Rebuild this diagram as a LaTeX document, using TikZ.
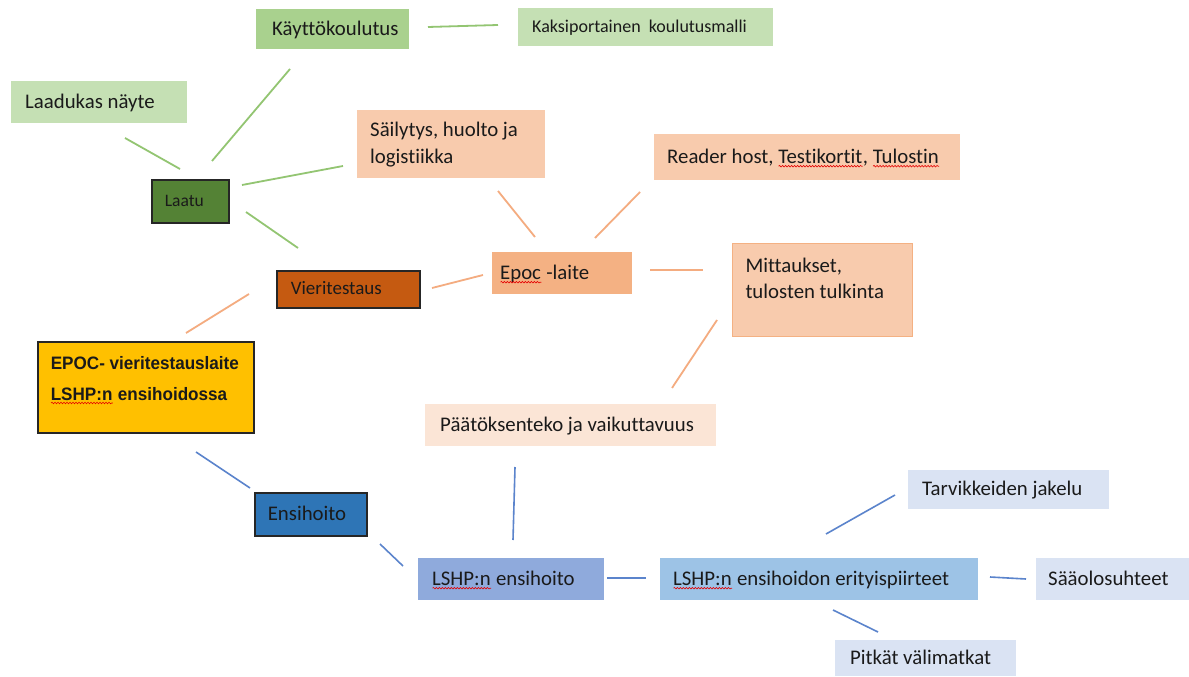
\documentclass[tikz,border=0pt]{standalone}
\usepackage{fontspec}
\usetikzlibrary{decorations.pathmorphing}
\setmainfont{Carlito}[Ligatures={NoCommon}]
\newfontfamily\epocfont{Liberation Sans}[FakeStretch=0.95]
\definecolor{cK}{HTML}{A9D18E}
\definecolor{cLG}{HTML}{C5E0B4}
\definecolor{cLaatu}{HTML}{548235}
\definecolor{cPeach}{HTML}{F8CBAD}
\definecolor{cOrange}{HTML}{F4B183}
\definecolor{cVieri}{HTML}{C55A11}
\definecolor{cGold}{HTML}{FFC000}
\definecolor{cPD}{HTML}{FBE5D6}
\definecolor{cEns}{HTML}{2E75B6}
\definecolor{cLSHP}{HTML}{8FAADC}
\definecolor{cErit}{HTML}{9DC3E6}
\definecolor{cLB}{HTML}{DAE3F3}
\definecolor{lnG}{HTML}{93C572}
\definecolor{lnO}{HTML}{F4AC80}
\definecolor{lnB}{HTML}{5B84CC}
\definecolor{txt}{HTML}{1A1A1A}
\newlength\spllen
\newcommand\lbx[3]{\makebox[#1pt][l]{\hspace*{#2pt}\strut#3}}
\newcommand\mlbx[3]{\makebox[#1pt][l]{\hspace*{#2pt}\begin{tabular}[c]{@{}l@{}}#3\end{tabular}}}
\newcommand\spl[1]{\leavevmode\setbox0=\hbox{#1}\spllen=\wd0\rlap{#1}\tikz[baseline=0pt,x=1pt,y=1pt]\draw[red!90!black, line width=0.6pt, decorate, decoration={snake, amplitude=0.8pt, segment length=3pt}] (0,-3) -- (\spllen,-3);}
\frenchspacing
\tikzset{
  box/.style={rectangle, anchor=north west, inner sep=0pt, font=\fontsize{20.8}{30}\selectfont, text=txt},
  frame/.style={draw=black!85, line width=1.6pt},
  gline/.style={draw=lnG, line width=1.8pt},
  oline/.style={draw=lnO, line width=1.8pt},
  bline/.style={draw=lnB, line width=1.6pt}
}
\begin{document}
\begin{tikzpicture}[x=1pt,y=-1pt]
\fill[white] (0,0) rectangle (1189,677);
\useasboundingbox (0,0) rectangle (1189,677);
% nodes
\node[box, fill=cK, minimum height=40] (kaytto) at (256,9) {\lbx{153}{16}{Käyttökoulutus}};
\node[box, fill=cLG, minimum height=38, font=\fontsize{18}{26}\selectfont] (kaksi) at (518,8) {\lbx{255}{14}{Kaksiportainen\ \ koulutusmalli}};
\node[box, fill=cLG, minimum height=42] (laadukas) at (11,81) {\lbx{176}{14}{Laadukas näyte}};
\node[box, fill=cLaatu, frame, minimum height=43, font=\fontsize{17.5}{26}\selectfont] (laatu) at (151,179) {\lbx{77}{13}{Laatu}};
\node[box, fill=cPeach, minimum height=68, font=\fontsize{20.8}{27}\selectfont] (sailytys) at (357,110) {\mlbx{188}{13}{Säilytys, huolto ja\\logistiikka}};
\node[box, fill=cPeach, minimum height=46] (reader) at (654,134) {\lbx{306}{13}{Reader host, \spl{Testikortit}, \spl{Tulostin}}};
\node[box, fill=cPeach, draw=cOrange, line width=1pt, minimum height=93, font=\fontsize{20.8}{26}\selectfont] (mitt) at (732,243) {\mlbx{180}{13}{Mittaukset,\\tulosten tulkinta\\[-6pt]~}};
\node[box, fill=cOrange, minimum height=42] (epoc) at (492,252) {\lbx{140}{8}{\spl{Epoc} -laite}};
\node[box, fill=cVieri, frame, minimum height=37, font=\fontsize{19}{26}\selectfont] (vieri) at (276,270) {\lbx{143}{14}{Vieritestaus}};
\node[box, fill=cGold, frame, minimum height=91, font=\epocfont\bfseries\fontsize{18}{31}\selectfont] (main) at (37,341) {\mlbx{216}{13}{EPOC- vieritestauslaite\\\spl{LSHP:n} ensihoidossa\\[-13pt]~}};
\node[box, fill=cPD, minimum height=42] (paat) at (425,404) {\lbx{291}{15}{Päätöksenteko ja vaikuttavuus}};
\node[box, fill=cEns, frame, minimum height=43] (ens) at (254,492) {\lbx{112}{13}{Ensihoito}};
\node[box, fill=cLSHP, minimum height=42] (lshp) at (418,558) {\lbx{186}{14}{\spl{LSHP:n} ensihoito}};
\node[box, fill=cErit, minimum height=42] (erit) at (660,558) {\lbx{318}{13}{\spl{LSHP:n} ensihoidon erityispiirteet}};
\node[box, fill=cLB, minimum height=39] (tarv) at (908,470) {\lbx{201}{14}{Tarvikkeiden jakelu}};
\node[box, fill=cLB, minimum height=42] (saa) at (1036,558) {\lbx{153}{12}{Sääolosuhteet}};
\node[box, fill=cLB, minimum height=36] (pitkat) at (835,640) {\lbx{181}{15}{Pitkät välimatkat}};
% connector end points
\coordinate (g1a) at (125,138); \coordinate (g1b) at (180,169);
\coordinate (g2a) at (290,69);  \coordinate (g2b) at (212,161);
\coordinate (g3a) at (242,185); \coordinate (g3b) at (343,166);
\coordinate (g4a) at (246,212); \coordinate (g4b) at (298,248);
\coordinate (g5a) at (428,27);  \coordinate (g5b) at (498,25);
\coordinate (o1a) at (186,333); \coordinate (o1b) at (249,294);
\coordinate (o2a) at (432,288); \coordinate (o2b) at (483,275);
\coordinate (o3a) at (498,191); \coordinate (o3b) at (535,237);
\coordinate (o4a) at (595,238); \coordinate (o4b) at (640,192);
\coordinate (o5a) at (650,270); \coordinate (o5b) at (703,270);
\coordinate (o6a) at (717,320); \coordinate (o6b) at (672,388);
\coordinate (b1a) at (196,452); \coordinate (b1b) at (250,488);
\coordinate (b2a) at (380,544); \coordinate (b2b) at (403,566);
\coordinate (b3a) at (515,467); \coordinate (b3b) at (513,540);
\coordinate (b4a) at (607,578); \coordinate (b4b) at (646,578);
\coordinate (b5a) at (826,534); \coordinate (b5b) at (895,495);
\coordinate (b6a) at (990,577); \coordinate (b6b) at (1026,579);
\coordinate (b7a) at (833,610); \coordinate (b7b) at (878,632);
% connectors
\draw[gline] (g1a) -- (g1b);
\draw[gline] (g2a) -- (g2b);
\draw[gline] (g3a) -- (g3b);
\draw[gline] (g4a) -- (g4b);
\draw[gline] (g5a) -- (g5b);
\draw[oline] (o1a) -- (o1b);
\draw[oline] (o2a) -- (o2b);
\draw[oline] (o3a) -- (o3b);
\draw[oline] (o4a) -- (o4b);
\draw[oline] (o5a) -- (o5b);
\draw[oline] (o6a) -- (o6b);
\draw[bline] (b1a) -- (b1b);
\draw[bline] (b2a) -- (b2b);
\draw[bline] (b3a) -- (b3b);
\draw[bline] (b4a) -- (b4b);
\draw[bline] (b5a) -- (b5b);
\draw[bline] (b6a) -- (b6b);
\draw[bline] (b7a) -- (b7b);
\end{tikzpicture}
\end{document}
